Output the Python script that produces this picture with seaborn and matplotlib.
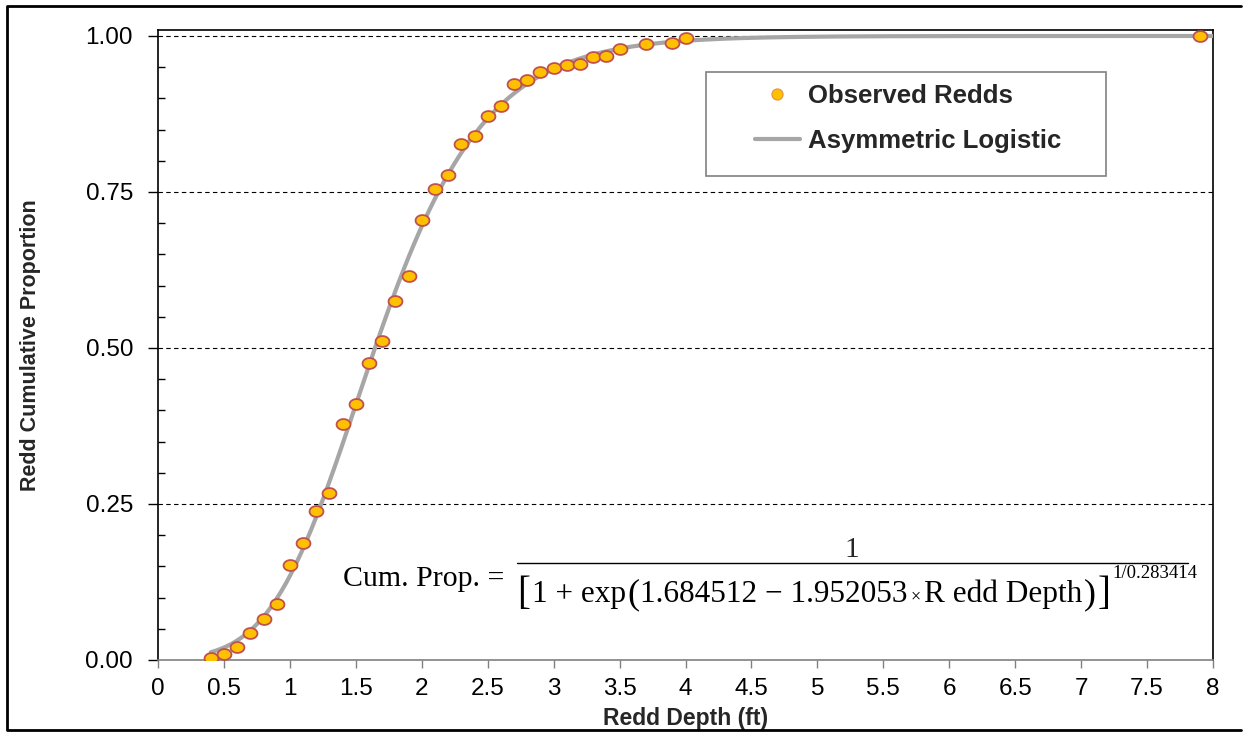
import numpy as np
import matplotlib
matplotlib.use("Agg")
import matplotlib.pyplot as plt
import seaborn as sns
from matplotlib.lines import Line2D
from matplotlib.patches import Rectangle
from matplotlib.path import Path
from matplotlib.ticker import MultipleLocator

# ---------------- data ----------------
depth = [0.4, 0.5, 0.6, 0.7, 0.8, 0.9, 1.0, 1.1, 1.2, 1.3, 1.4, 1.5, 1.6, 1.7,
         1.8, 1.9, 2.0, 2.1, 2.2, 2.3, 2.4, 2.5, 2.6, 2.7, 2.8, 2.9, 3.0, 3.1,
         3.2, 3.3, 3.4, 3.5, 3.7, 3.9, 4.0, 7.9]
cum_prop = [0.003, 0.009, 0.021, 0.044, 0.066, 0.090, 0.153, 0.187, 0.239, 0.268,
            0.378, 0.410, 0.476, 0.511, 0.575, 0.615, 0.705, 0.755, 0.778, 0.827,
            0.839, 0.871, 0.888, 0.923, 0.930, 0.942, 0.949, 0.954, 0.955, 0.966,
            0.968, 0.979, 0.987, 0.989, 0.997, 1.000]

# fitted asymmetric logistic parameters (as printed on the chart)
fit_a = 1.684512
fit_b = 1.952053
fit_nu = 0.283414
curve_start, curve_end = 0.4, 8.0

x_ticks = [0, 0.5, 1, 1.5, 2, 2.5, 3, 3.5, 4, 4.5, 5, 5.5, 6, 6.5, 7, 7.5, 8]
x_tick_labels = ["0", "0.5", "1", "1.5", "2", "2.5", "3", "3.5", "4", "4.5",
                 "5", "5.5", "6", "6.5", "7", "7.5", "8"]
y_ticks = [0.0, 0.25, 0.50, 0.75, 1.00]
y_tick_labels = ["0.00", "0.25", "0.50", "0.75", "1.00"]
legend_labels = ["Observed Redds", "Asymmetric Logistic"]

# ---------------- style ----------------
sns.set_theme(style="white")
plt.rcParams['font.family'] = ['Liberation Sans', 'DejaVu Sans']

W, H = 1250, 732
fig = plt.figure(figsize=(W / 100, H / 100), dpi=100)
fig.patch.set_facecolor('white')


def fx(px):
    return px / W


def fy(py):
    return 1 - py / H


ax_l, ax_r, ax_t, ax_b = 158, 1213, 30, 660
ax = fig.add_axes([fx(ax_l), fy(ax_b), (ax_r - ax_l) / W, (ax_b - ax_t) / H])
ax.set_facecolor('white')

# fitted curve
curve_x = np.linspace(curve_start, curve_end, 400)
curve_y = 1.0 / (1.0 + np.exp(fit_a - fit_b * curve_x)) ** (1.0 / fit_nu)
sns.lineplot(x=curve_x, y=curve_y, color='#a6a6a6', lw=3.0, ax=ax, zorder=3,
             legend=False)

# elliptical marker (reference markers are slightly wider than tall)
t = np.linspace(0, 2 * np.pi, 64)
ell = Path(np.column_stack([1.28 * np.cos(t), np.sin(t)]), closed=True)
sns.scatterplot(x=depth, y=cum_prop, marker=ell, s=100, color='#ffc000',
                edgecolor='#c0504d', linewidth=1.3, ax=ax, zorder=4, legend=False)

# dashed reference lines
for yv in y_ticks[1:]:
    ax.axhline(yv, color='black', lw=0.8, ls=(0, (4, 3)), zorder=1)

ax.set_xlim(0, 8)
ax.set_ylim(0, 1.0096)
ax.set_xticks(x_ticks, x_tick_labels)
ax.set_yticks(y_ticks, y_tick_labels)
ax.yaxis.set_minor_locator(MultipleLocator(0.05))
ax.tick_params(axis='x', which='major', bottom=True, direction='out', length=6,
               width=1, color='#808080', labelsize=17.5, pad=7, labelcolor='black')
ax.tick_params(axis='y', which='major', left=True, direction='out', length=7,
               width=1, color='black', labelsize=17.5, pad=11, labelcolor='black')
ax.tick_params(axis='y', which='minor', left=True, direction='in', length=5,
               width=1, color='black')

for side in ['left', 'right', 'top']:
    ax.spines[side].set_color('black')
    ax.spines[side].set_linewidth(1.2)
    ax.spines[side].set_visible(True)
ax.spines['bottom'].set_color('#808080')
ax.spines['bottom'].set_linewidth(1.2)

ax.set_xlabel('Redd Depth (ft)', fontsize=16.5, fontweight='bold')
ax.xaxis.set_label_coords(0.5, (ax_b - 707) / (ax_b - ax_t))
ax.set_ylabel('Redd Cumulative Proportion', fontsize=15.5, fontweight='bold')
ax.yaxis.set_label_coords((41 - ax_l) / (ax_r - ax_l), 0.5)

# legend frame + legend
lx0, lx1, ly0, ly1 = 706, 1106, 72, 176
frame = Rectangle(((lx0 - ax_l) / (ax_r - ax_l), (ax_b - ly1) / (ax_b - ax_t)),
                  (lx1 - lx0) / (ax_r - ax_l), (ly1 - ly0) / (ax_b - ax_t),
                  transform=ax.transAxes, facecolor='white', edgecolor='#808080',
                  lw=1.2, zorder=5)
ax.add_patch(frame)
h1 = Line2D([], [], marker='o', ls='none', markerfacecolor='#ffc000',
            markeredgecolor='#e8903a', markeredgewidth=0.8, markersize=8)
h2 = Line2D([], [], color='#a6a6a6', lw=3.0)
leg = ax.legend([h1, h2], legend_labels, loc='upper left',
                bbox_to_anchor=((755 - ax_l) / (ax_r - ax_l), (ax_b - 84) / (ax_b - ax_t)),
                frameon=False, prop=dict(weight='bold', size=18.5), borderpad=0,
                borderaxespad=0, labelspacing=0.82, handlelength=1.75,
                handletextpad=0.3)
leg.set_zorder(6)

# ---------------- equation ----------------
renderer = fig.canvas.get_renderer()
serif = 'Liberation Serif'


def place(s, x, y, size):
    """Place text at pixel x (left) / baseline y; return right edge in px."""
    txt = fig.text(fx(x), fy(y), s, family=serif, fontsize=size,
                   ha='left', va='baseline', color='black')
    return x + txt.get_window_extent(renderer).width


place('Cum. Prop. =', 343, 586, 21.5)
fig.text(fx(852), fy(557), '1', family=serif, fontsize=21, ha='center',
         va='baseline')
fig.add_artist(Line2D([fx(517), fx(1188)], [fy(563), fy(563)],
                      transform=fig.transFigure, color='black', lw=1.0))

base = 602
xx = 517
xx = place('[', xx, base + 2, 28)
xx = place('1 + exp', xx + 2, base, 22.5)
xx = place('(', xx + 1, base + 1, 26)
xx = place('1.684512 \u2212 1.952053', xx + 1, base, 22.5)
xx = place('\u00d7', xx + 3, base - 1, 13)
xx = place('R edd Depth', xx + 3, base, 22.5)
xx = place(')', xx + 2, base + 1, 26)
xx = place(']', xx + 2, base + 2, 28)
place('1/0.283414', xx + 2, 578, 13.5)

# figure border
fig.add_artist(Line2D([fx(1241), fx(7), fx(7), fx(1241)],
                      [fy(6), fy(6), fy(730), fy(730)],
                      transform=fig.transFigure, color='black', lw=2.0))

fig.savefig('out.png', dpi=100)
